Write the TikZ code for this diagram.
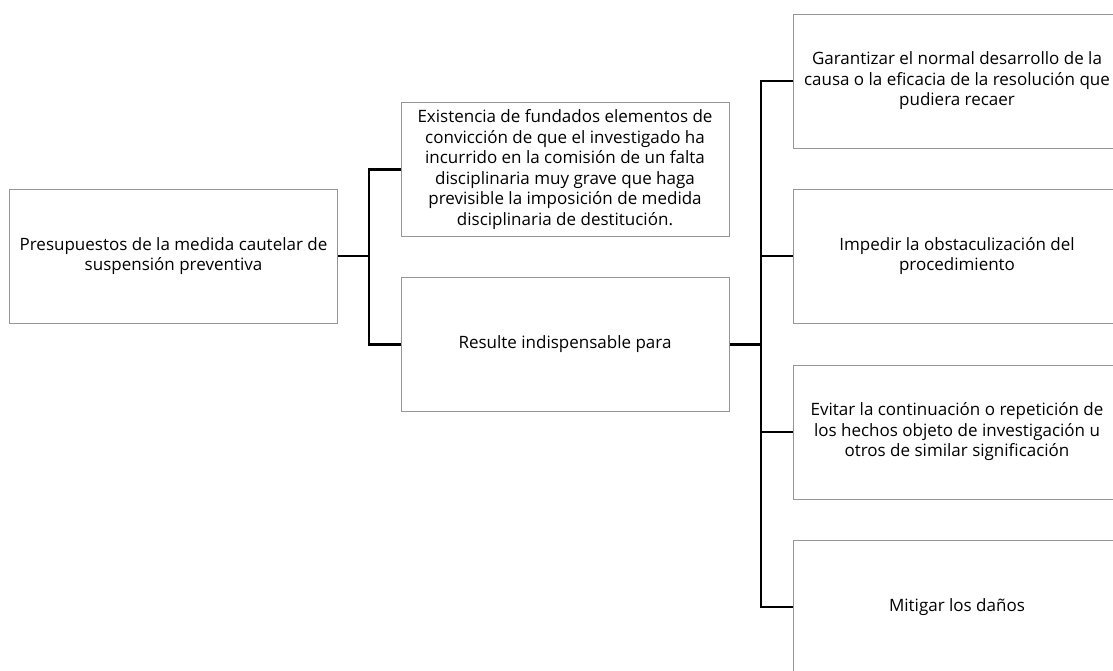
\documentclass[tikz,border=0pt]{standalone}
\usepackage{fontspec}
\setmainfont{Open Sans}
\definecolor{boxgray}{RGB}{150,150,150}
\begin{document}
\begin{tikzpicture}[x=1pt,y=-1pt,
  box/.style={draw=boxgray, line width=1pt, minimum width=328pt, minimum height=134pt,
    align=center, inner sep=0pt, font=\fontsize{17}{20.5}\selectfont, text=black},
  conn/.style={line width=2.8pt, draw=black}]
\useasboundingbox (0,0) rectangle (1113,670);
\clip (0,0) rectangle (1113,670);
\fill[white] (0,0) rectangle (1113,670);
\node[box] (A) at (173.5,256) {Presupuestos de la medida cautelar de\\suspensión preventiva};
\node[box] (B1) at (565,169.5) {Existencia de fundados elementos de\\convicción de que el investigado ha\\incurrido en la comisión de un falta\\disciplinaria muy grave que haga\\previsible la imposición de medida\\disciplinaria de destitución.};
\node[box] (B2) at (565,344.5) {Resulte indispensable para};
\node[box] (C1) at (957,81) {Garantizar el normal desarrollo de la\\causa o la eficacia de la resolución que\\pudiera recaer};
\node[box] (C2) at (957,256) {Impedir la obstaculización del\\procedimiento};
\node[box] (C3) at (957,432) {Evitar la continuación o repetición de\\los hechos objeto de investigación u\\otros de similar significación};
\node[box] (C4) at (957,607) {Mitigar los daños};
\coordinate (j1) at (369,256);
\coordinate (j2) at (761,344.5);
\draw[conn] (A.east) -- (j1);
\draw[conn] (B1.west) -- (B1.west -| j1) -- (B2.west -| j1) -- (B2.west);
\draw[conn] (B2.east) -- (j2);
\draw[conn] (C1.west) -- (C1.west -| j2) -- (C4.west -| j2) -- (C4.west);
\draw[conn] (C2.west) -- (C2.west -| j2);
\draw[conn] (C3.west) -- (C3.west -| j2);
\end{tikzpicture}
\end{document}
